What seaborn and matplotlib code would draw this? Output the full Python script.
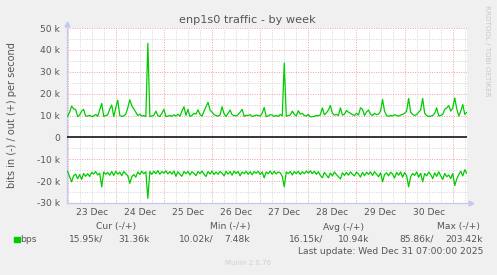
import numpy as np
import pandas as pd
import matplotlib
matplotlib.use("Agg")
import matplotlib.pyplot as plt
import seaborn as sns

# ---------------- data (kbit/s, hourly samples from 23 Dec 00:00) ----------------
day_labels = ["23 Dec", "24 Dec", "25 Dec", "26 Dec", "27 Dec", "28 Dec", "29 Dec", "30 Dec"]

out_k = [
    9.6, 11.5, 14.3, 13.0, 12.8, 9.5, 10.2, 12.0, 12.8, 9.8,
    9.7, 10.1, 9.5, 9.8, 10.5, 9.6, 12.5, 15.5, 9.6, 10.0,
    10.3, 13.0, 14.8, 9.5, 13.5, 17.0, 10.0, 9.6, 9.8, 10.6,
    13.5, 17.2, 14.5, 13.0, 11.5, 10.0, 10.6, 9.7, 10.0, 9.5,
    43.0, 9.5, 9.8, 10.1, 12.0, 9.9, 9.6, 11.0, 12.8, 9.5,
    9.7, 10.0, 9.6, 10.3, 9.8, 10.6, 9.7, 12.0, 14.0, 10.1,
    12.8, 9.6, 10.0, 11.0, 10.6, 12.6, 10.5, 9.7, 12.0, 14.0,
    16.0, 12.5, 11.5, 10.4, 10.0, 9.7, 10.2, 14.0, 10.8, 9.5,
    11.0, 12.5, 10.3, 10.0, 9.8, 10.4, 11.5, 12.8, 9.6, 10.1,
    10.0, 10.4, 9.6, 9.8, 10.2, 10.0, 9.7, 11.0, 13.7, 9.5,
    9.8, 10.4, 10.2, 9.6, 10.0, 9.6, 10.5, 9.8, 34.0, 9.6,
    10.0, 10.2, 12.0, 10.5, 9.8, 12.2, 10.6, 11.0, 10.0, 9.7,
    10.5, 9.4, 9.5, 9.6, 10.0, 9.8, 10.4, 13.5, 10.3, 11.2,
    12.5, 14.6, 11.0, 10.2, 10.5, 10.0, 13.5, 10.2, 10.6, 12.3,
    11.5, 11.0, 10.4, 10.0, 11.0, 10.2, 13.5, 12.8, 10.0, 11.6,
    12.5, 10.6, 10.0, 11.0, 10.4, 10.6, 12.0, 17.3, 12.0, 10.0,
    9.6, 10.0, 9.8, 10.4, 10.0, 9.7, 10.2, 10.5, 11.0, 12.0,
    17.8, 11.5, 10.5, 10.0, 10.4, 11.5, 12.5, 17.8, 11.0, 10.0,
    9.6, 9.7, 10.0, 11.0, 13.5, 9.8, 10.0, 10.5, 12.8, 13.5,
    14.5, 12.0, 13.5, 18.0, 13.0, 9.8, 12.0, 15.0, 10.5, 11.5,
]

in_k = [
    15.5, 18.0, 20.3, 17.5, 16.8, 18.9, 17.0, 19.2, 16.5, 17.8,
    16.6, 17.9, 16.0, 16.8, 15.6, 17.2, 16.4, 22.6, 15.8, 16.9,
    16.0, 17.3, 15.6, 17.4, 15.5, 16.8, 15.9, 17.5, 15.6, 16.7,
    17.5, 21.0, 18.0, 17.0, 18.2, 15.8, 17.0, 15.5, 16.6, 15.7,
    27.9, 15.6, 16.9, 15.5, 16.6, 15.2, 16.9, 15.6, 16.4, 15.3,
    16.7, 15.6, 16.8, 15.4, 17.8, 15.7, 16.9, 17.8, 15.6, 16.6,
    15.5, 17.2, 15.7, 16.5, 17.5, 15.6, 16.6, 15.4, 16.8, 17.9,
    15.6, 16.8, 15.4, 17.0, 15.8, 16.9, 15.6, 16.4, 17.6, 15.5,
    16.8, 15.6, 17.3, 15.4, 16.5, 15.6, 17.6, 15.8, 16.6, 15.5,
    16.9, 15.7, 17.1, 15.6, 16.4, 15.5, 17.0, 15.8, 18.5, 15.8,
    16.6, 15.4, 16.9, 15.5, 16.7, 15.8, 16.2, 17.8, 22.6, 15.8,
    16.6, 15.6, 17.2, 15.6, 16.6, 15.5, 17.0, 15.7, 16.6, 15.4,
    16.4, 15.3, 16.6, 15.5, 16.9, 15.7, 17.4, 18.5, 16.0, 17.2,
    18.5, 16.3, 17.6, 15.8, 17.0, 18.0, 19.0, 16.2, 17.4, 16.0,
    17.3, 15.8, 16.9, 17.6, 15.9, 16.7, 18.2, 16.0, 17.5, 15.9,
    16.9, 15.8, 17.4, 15.7, 16.8, 18.0, 16.2, 20.3, 17.0, 16.2,
    17.6, 15.9, 16.8, 18.6, 16.0, 17.3, 15.8, 18.2, 16.1, 17.5,
    22.6, 18.0, 16.5, 17.4, 15.8, 18.2, 16.4, 20.3, 16.5, 17.6,
    15.9, 17.0, 18.9, 16.2, 17.8, 15.7, 17.6, 19.2, 16.5, 18.0,
    17.2, 18.8, 16.5, 22.0, 19.0, 17.0, 15.5, 17.6, 14.8, 16.5,
]

legend_headers = ["Cur (-/+)", "Min (-/+)", "Avg (-/+)", "Max (-/+)"]
legend_values = [("15.95k/", "31.36k"), ("10.02k/", "7.48k"),
                 ("16.15k/", "10.94k"), ("85.86k/", "203.42k")]
series_name = "bps"
title = "enp1s0 traffic - by week"
ylabel = "bits in (-) / out (+) per second"
last_update = "Last update: Wed Dec 31 07:00:00 2025"
footer = "Munin 2.0.76"
side_text = "RRDTOOL / TOBI OETIKER"

hours = np.arange(len(out_k))
df = pd.DataFrame({"hour": hours, "out": out_k, "in": [-v for v in in_k]})

# ---------------- style ----------------
sns.set_style("white")
plt.rcParams["font.family"] = ["DejaVu Sans"]
TXT = "#555555"
GREEN = "#00CC00"
AXC = "#C4C8EE"
W, H = 497, 275

fig = plt.figure(figsize=(W / 100, H / 100), dpi=100, facecolor="#F0F0F0")
ax = fig.add_axes([67 / W, (H - 203) / H, 400 / W, 175 / H])
ax.set_facecolor("white")

# grid
for h in range(0, 200, 6):
    major = h % 24 == 0
    ax.axvline(h, color="#F0A0A0" if major else "#D4D4D4", lw=0.7,
               ls=(0, (1, 1.5)), zorder=0)
for v in range(-25, 51, 5):
    if v == 0:
        continue
    major = v % 10 == 0
    ax.axhline(v, color="#F0A0A0" if major else "#D4D4D4", lw=0.7,
               ls=(0, (1, 1.5)), zorder=0)

sns.lineplot(data=df, x="hour", y="out", color=GREEN, lw=0.9, ax=ax, zorder=4)
sns.lineplot(data=df, x="hour", y="in", color=GREEN, lw=0.9, ax=ax, zorder=4)
ax.axhline(0, color="black", lw=1.1, zorder=3)

ax.set_xlim(-0.3, 199.1)
ax.set_ylim(-30, 50)
ax.set_xticks([12 + 24 * i for i in range(len(day_labels))])
ax.set_xticklabels(day_labels)
yt = list(range(-30, 51, 10))
ax.set_yticks(yt)
ax.set_yticklabels([f"{v} k" if v else "0" for v in yt])
ax.tick_params(length=0, labelsize=6.6, colors=TXT, pad=5)
ax.tick_params(axis="x", pad=3.5)
ax.set_xlabel("")
ax.set_ylabel("")
for s in ["top", "right"]:
    ax.spines[s].set_visible(False)
for s in ["left", "bottom"]:
    ax.spines[s].set_color(AXC)
    ax.spines[s].set_linewidth(0.9)

# axis arrows
ax.plot([0], [1.025], marker="^", ms=3.5, color=AXC, transform=ax.transAxes, clip_on=False)
ax.plot([1.01], [0], marker=">", ms=3.5, color=AXC, transform=ax.transAxes, clip_on=False)


def ftxt(x, y, s, **kw):
    kw.setdefault("color", TXT)
    kw.setdefault("fontsize", 6.6)
    kw.setdefault("va", "center")
    fig.text(x / W, 1 - y / H, s, **kw)


ftxt(247.5, 20, title, fontsize=8.1, ha="center")
ftxt(12, 115.5, ylabel, fontsize=7.0, ha="center", rotation=90)
ftxt(487, 51, side_text, fontsize=5.1, ha="center", rotation=270, color="#C8C8C8")

hdr_right = [136, 250, 364, 480]
for x, s in zip(hdr_right, legend_headers):
    ftxt(x, 227, s, ha="right")

fig.patches.append(plt.Rectangle((14 / W, 1 - 242 / H), 5.5 / W, 5.5 / H,
                                 transform=fig.transFigure, color=GREEN, figure=fig))
ftxt(20, 239, series_name, ha="left")
val_right = [(103, 150), (214, 250), (323, 369), (434, 483)]
for (x1, x2), (a, b) in zip(val_right, legend_values):
    ftxt(x1, 239, a, ha="right")
    ftxt(x2, 239, b, ha="right")
ftxt(483, 251, last_update, ha="right")
ftxt(248, 263, footer, ha="center", fontsize=5.0, color="#CFCFCF")

fig.savefig("out.png", dpi=100, facecolor=fig.get_facecolor())
